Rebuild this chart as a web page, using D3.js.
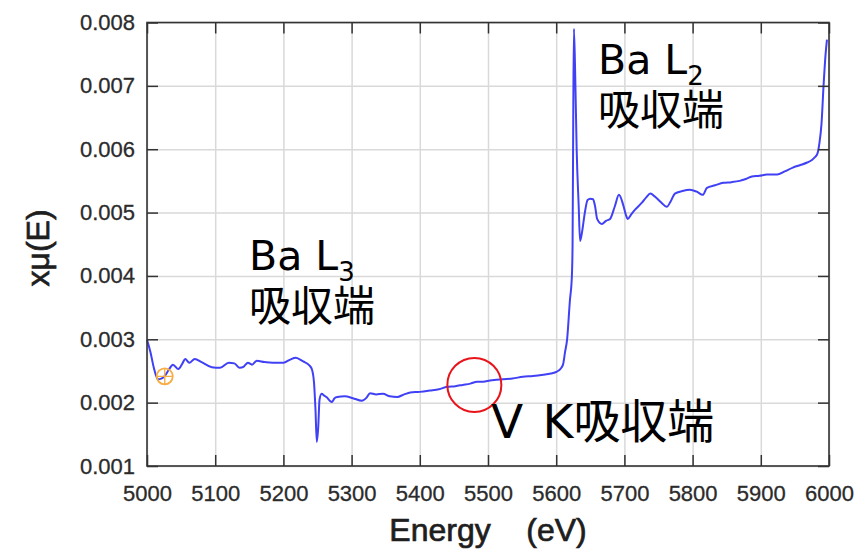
<!DOCTYPE html>
<meta charset="utf-8">
<title>Ba L / V K edges</title>
<head>
    <script src="https://d3js.org/d3.v7.min.js"></script>
</head>
<body style="margin: 0px; background: #fff">
<script>

    // spectrum
    var energy = [5000, 5005, 5010, 5016, 5021, 5026, 5032, 5038, 5046, 5052, 5056, 5062, 5070, 5080, 5095,
        5107, 5120, 5128, 5136, 5142, 5148, 5154, 5161, 5172, 5185, 5200, 5210, 5218, 5229, 5238, 5242,
        5245, 5247, 5249, 5251, 5253, 5256, 5260, 5264, 5268, 5271, 5275, 5279, 5290, 5302, 5315, 5322,
        5327, 5336, 5346, 5356, 5367, 5377, 5386, 5400, 5415, 5428, 5440, 5452, 5463, 5474, 5484, 5493,
        5503, 5512, 5522, 5536, 5551, 5566, 5581, 5592, 5601, 5606, 5610, 5613, 5616, 5620, 5623, 5624,
        5625, 5626, 5628, 5630, 5633, 5635, 5638, 5642, 5646, 5650, 5654, 5657, 5660, 5667, 5673, 5679,
        5686, 5692, 5698, 5702, 5705, 5710, 5716, 5726, 5732, 5738, 5745, 5754, 5762, 5768, 5774, 5785,
        5796, 5806, 5815, 5821, 5833, 5845, 5857, 5869, 5878, 5887, 5898, 5909, 5917, 5924, 5935, 5947,
        5958, 5968, 5975, 5979, 5983, 5986, 5989, 5992, 5995, 5997];
    var xmu = [0.00299, 0.0028, 0.00255, 0.00237, 0.00238, 0.00242, 0.00252, 0.0026, 0.00253, 0.00262, 0.00269,
        0.00263, 0.00269, 0.00264, 0.00256, 0.00255, 0.00263, 0.00262, 0.00255, 0.00257, 0.00263, 0.0026,
        0.00266, 0.00264, 0.00263, 0.00263, 0.00268, 0.00271, 0.00265, 0.00259, 0.00252, 0.0023, 0.0019,
        0.00138, 0.0016, 0.00205, 0.00214, 0.00211, 0.00208, 0.00203, 0.00201, 0.00207, 0.00209, 0.0021,
        0.00207, 0.00203, 0.00208, 0.00215, 0.00213, 0.00214, 0.0021, 0.00209, 0.00213, 0.00216, 0.00217,
        0.00219, 0.00221, 0.00225, 0.00226, 0.00228, 0.0023, 0.00233, 0.00233, 0.00235, 0.00236, 0.00237,
        0.00238, 0.00241, 0.00242, 0.00244, 0.00246, 0.00249, 0.00253, 0.0026, 0.0028, 0.0030, 0.0036,
        0.0040, 0.0045, 0.0065, 0.0079, 0.0071, 0.0060, 0.0051, 0.00455, 0.0047, 0.0050, 0.0052, 0.00522,
        0.00521, 0.0051, 0.0049, 0.00482, 0.00487, 0.0049, 0.0051, 0.00528, 0.00513, 0.00497, 0.0049,
        0.00497, 0.00505, 0.00516, 0.00524, 0.0053, 0.00525, 0.00516, 0.00509, 0.00518, 0.0053, 0.00534,
        0.00536, 0.00533, 0.00528, 0.00539, 0.00543, 0.00547, 0.00548, 0.0055, 0.00553, 0.00557, 0.00558,
        0.0056, 0.0056, 0.0056, 0.00565, 0.00571, 0.00575, 0.00579, 0.00583, 0.00587, 0.00593, 0.0061,
        0.0064, 0.0070, 0.0075, 0.00773];

    var xTicks = [5000, 5100, 5200, 5300, 5400, 5500, 5600, 5700, 5800, 5900, 6000];
    var yTicks = [0.001, 0.002, 0.003, 0.004, 0.005, 0.006, 0.007, 0.008];

    // marked points: small orange marker and the red circle around the V K edge
    var markerE = [5026], markerV = [0.002415];
    var circleE = [5480], circleV = [0.00228];

    var width = 860,
            height = 549,
            margin = {top: 22.5, right: 31, bottom: 83, left: 147},
            w = width - margin.left - margin.right,
            h = height - margin.top - margin.bottom;

    var svg = d3.select("body").append("svg")
            .attr("width", width)
            .attr("height", height)
            .style("font-family", "'Liberation Sans', Arial, sans-serif");

    var g = svg.append("g").attr("transform", "translate(" + margin.left + "," + margin.top + ")");

    var x = d3.scaleLinear().domain([5000, 6000]).range([0, w]);
    var y = d3.scaleLinear().domain([0.001, 0.008]).range([h, 0]);

    // grid
    g.append("g").attr("transform", "translate(0," + h + ")")
            .call(d3.axisBottom(x).tickValues(xTicks).tickSize(-h).tickFormat(""))
            .call(function (a) { a.select(".domain").remove(); })
            .selectAll("line").attr("stroke", "#d9d9d9").attr("stroke-width", 1.5);
    g.append("g")
            .call(d3.axisLeft(y).tickValues(yTicks).tickSize(-w).tickFormat(""))
            .call(function (a) { a.select(".domain").remove(); })
            .selectAll("line").attr("stroke", "#d9d9d9").attr("stroke-width", 1.5);

    // curve
    var pts = energy.map(function (e, i) { return [e, xmu[i]]; });
    g.append("path")
            .datum(pts)
            .attr("fill", "none")
            .attr("stroke", "#4040f5")
            .attr("stroke-width", 2)
            .attr("stroke-linejoin", "round")
            .attr("d", d3.line().curve(d3.curveMonotoneX).x(function (d) { return x(d[0]); }).y(function (d) { return y(d[1]); }));

    // axes with inward ticks, mirrored on top and right
    var tickColor = "#333";
    function styleAxis(a) {
        a.select(".domain").remove();
        a.selectAll("line").attr("stroke", tickColor).attr("stroke-width", 1.5);
        a.selectAll("text").attr("fill", "#2b2b2b").style("font-size", "22px")
                .attr("stroke", "#2b2b2b").attr("stroke-width", 0.3);
    }
    g.append("g").attr("transform", "translate(0," + h + ")")
            .call(d3.axisBottom(x).tickValues(xTicks).tickSize(-11).tickPadding(19).tickFormat(d3.format("d")))
            .call(styleAxis);
    g.append("g")
            .call(d3.axisLeft(y).tickValues(yTicks).tickSize(-11).tickPadding(12).tickFormat(d3.format(".3f")))
            .call(styleAxis);
    g.append("g")
            .call(d3.axisTop(x).tickValues(xTicks).tickSize(-11).tickFormat(""))
            .call(styleAxis);
    g.append("g").attr("transform", "translate(" + w + ",0)")
            .call(d3.axisRight(y).tickValues(yTicks).tickSize(-11).tickFormat(""))
            .call(styleAxis);

    g.append("rect")
            .attr("width", w).attr("height", h)
            .attr("fill", "none").attr("stroke", tickColor).attr("stroke-width", 1.6);

    // markers
    markerE.forEach(function (e, i) {
        var cx = x(e), cy = y(markerV[i]);
        g.append("circle").attr("cx", cx).attr("cy", cy).attr("r", 8)
                .attr("fill", "none").attr("stroke", "#f6ad45").attr("stroke-width", 1.8);
        g.append("path").attr("d", "M" + (cx - 8) + "," + cy + "H" + (cx + 8) + "M" + cx + "," + (cy - 8) + "V" + (cy + 8))
                .attr("stroke", "#f6ad45").attr("stroke-width", 1.4);
    });
    circleE.forEach(function (e, i) {
        g.append("circle").attr("cx", x(e)).attr("cy", y(circleV[i])).attr("r", 27)
                .attr("fill", "none").attr("stroke", "#e8141a").attr("stroke-width", 2);
    });

    // annotations
    var annFont = "'DejaVu Sans', 'Noto Sans CJK JP', sans-serif";
    function edgeLabel(e, v, sub, size) {
        var t = g.append("text").attr("x", x(e)).attr("y", y(v))
                .style("font-family", annFont).style("font-size", size + "px").attr("fill", "#000");
        t.append("tspan").text("Ba L");
        t.append("tspan").text(sub).style("font-size", "26px").attr("dy", 11);
        g.append("text").attr("x", x(e)).attr("y", y(v) + 51)
                .style("font-family", "'Noto Sans CJK JP', sans-serif").style("font-size", (size + 1) + "px")
                .attr("fill", "#000").text("吸収端");
    }
    edgeLabel(5149.6, 0.0041, "3", 41);
    edgeLabel(5661.3, 0.00718, "2", 41);

    var vk = g.append("text").attr("x", x(5504.4)).attr("y", y(0.001444))
            .style("font-family", annFont).style("font-size", "47px").attr("fill", "#000");
    vk.append("tspan").text("V");
    vk.append("tspan").attr("x", x(5580)).text("K");
    vk.append("tspan").style("font-family", "'Noto Sans CJK JP', sans-serif").text("吸収端");

    // axis titles
    svg.append("text")
            .attr("x", margin.left + w / 2).attr("y", 541)
            .attr("text-anchor", "middle")
            .style("font-size", "32px").style("white-space", "pre")
            .attr("fill", "#1e1e1e").attr("stroke", "#1e1e1e").attr("stroke-width", 0.7)
            .text("Energy    (eV)");
    svg.append("text")
            .attr("transform", "translate(49,248) rotate(-90)")
            .attr("text-anchor", "middle")
            .style("font-size", "32px")
            .attr("fill", "#1e1e1e").attr("stroke", "#1e1e1e").attr("stroke-width", 0.7)
            .text("xμ(E)");

</script>
</body>
